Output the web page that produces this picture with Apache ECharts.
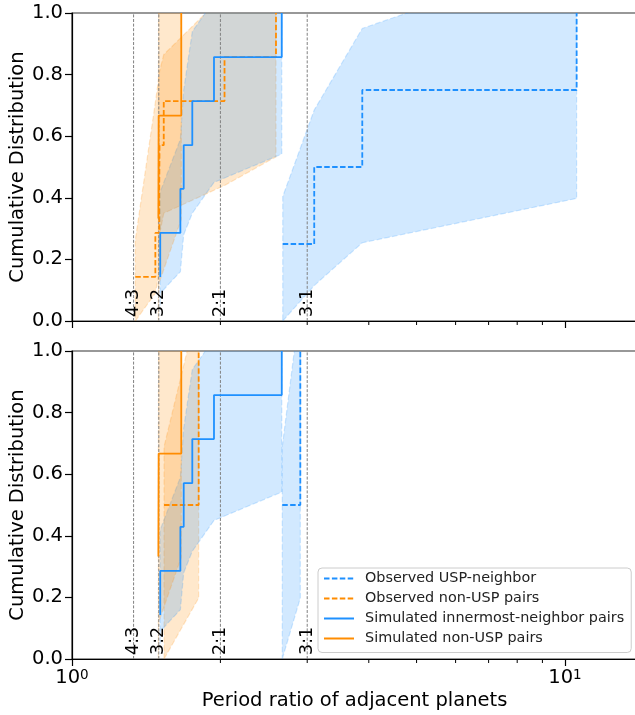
<!DOCTYPE html>
<html><head><meta charset="utf-8">
<script src="https://cdn.jsdelivr.net/npm/echarts@6/dist/echarts.min.js"></script>
<style>html,body{margin:0;padding:0;background:#fff}#c{width:635px;height:715px}</style>
</head><body><div id="c"></div>
<script>
// ---------------- data ----------------
const xMin = 1, xMax = 14;
const xTickValues = [1, 10];
const xTickLabels = [['10', '0'], ['10', '1']];
const xMinorTicks = [2, 3, 4, 5, 6, 7, 8, 9];
const yTickStep = 0.2;
const resonanceValues = [1.3333, 1.5, 2, 3];
const resonanceLabels = ['4:3', '3:2', '2:1', '3:1'];
const seriesNames = ['Observed USP-neighbor', 'Observed non-USP pairs', 'Simulated innermost-neighbor pairs', 'Simulated non-USP pairs'];
const xTitle = 'Period ratio of adjacent planets';
const yTitle = 'Cumulative Distribution';

// top panel observed USP-neighbor
const topUspX  = [2.676, 3.10, 3.88, 10.56];
const topUspY  = [0.25, 0.5, 0.75, 1.0];
const topUspLo = [0.0, 0.115, 0.254, 0.398];
const topUspHi = [0.404, 0.685, 0.95, 1.19];
// top panel observed non-USP pairs
const topObsX  = [1.344, 1.476, 1.503, 1.505, 1.535, 2.039, 2.593];
const topObsY  = [0.143, 0.286, 0.429, 0.571, 0.714, 0.857, 1.0];
const topObsLo = [0.0, 0.09, 0.16, 0.28, 0.35, 0.44, 0.533];
const topObsHi = [0.263, 0.71, 0.80, 0.81, 0.865, 1.06, 1.25];
// bottom panel observed USP-neighbor
const botUspX  = [2.670, 2.905];
const botUspY  = [0.5, 1.0];
const botUspLo = [0.0, 0.198];
const botUspHi = [0.689, 1.155];
// bottom panel observed non-USP pairs
const botObsX  = [1.537, 1.807];
const botObsY  = [0.5, 1.0];
const botObsLo = [0.0, 0.198];
const botObsHi = [0.689, 1.155];
// simulated innermost-neighbor pairs (both panels)
const simInX  = [1.510, 1.510, 1.659, 1.685, 1.754, 1.941, 2.664];
const simInY  = [0.143, 0.286, 0.429, 0.571, 0.714, 0.857, 1.0];
const simInLo = [0.05, 0.09, 0.16, 0.28, 0.35, 0.45, 0.542];
const simInHi = [0.30, 0.42, 0.59, 0.75, 0.94, 1.04, 1.20];
// simulated non-USP pairs (both panels)
const simNonX  = [1.497, 1.499, 1.666];
const simNonY  = [0.333, 0.667, 1.0];
const simNonLo = [0.0, 0.12, 0.33];
const simNonHi = [0.70, 1.10, 1.40];

// ---------------- styling ----------------
const FONT = 'DejaVu Sans';
const BLUE = '30,144,255', ORANGE = '255,140,0';
const rgba = (c, a) => 'rgba(' + c + ',' + a + ')';

function bandSeries(gi, xs, lo, hi, col) {
  return {
    type: 'custom', xAxisIndex: gi, yAxisIndex: gi, z: 1, silent: true, clip: true,
    data: xs.map((x, i) => [x, lo[i], hi[i]]),
    encode: { x: 0, y: [1, 2] },
    renderItem(params, api) {
      if (params.dataIndex !== 0) return null;
      const pts = [];
      for (let i = 0; i < xs.length; i++) pts.push(api.coord([xs[i], lo[i]]));
      for (let i = xs.length - 1; i >= 0; i--) pts.push(api.coord([xs[i], hi[i]]));
      return { type: 'polygon', shape: { points: pts },
        style: { fill: rgba(col, 0.2), stroke: rgba(col, 0.2), lineWidth: 1.2, lineDash: [5.5, 2.4] } };
    }
  };
}
function stepLine(gi, name, xs, ys, col, dashed) {
  return {
    type: 'line', name: name, xAxisIndex: gi, yAxisIndex: gi, step: 'end', z: 3,
    symbol: 'none', showSymbol: false, silent: true, clip: true,
    data: xs.map((x, i) => [x, ys[i]]),
    lineStyle: { color: rgba(col, 1), width: 1.8, type: dashed ? [5.5, 2.4] : 'solid' },
    itemStyle: { color: rgba(col, 1) }, emphasis: { disabled: true }
  };
}
function resonanceSeries(gi) {
  return {
    type: 'custom', xAxisIndex: gi, yAxisIndex: gi, z: 2, silent: true, clip: false,
    data: resonanceValues.map(v => [v, 0]), encode: { x: 0, y: 1 },
    renderItem(params, api) {
      const v = api.value(0);
      const p0 = api.coord([v, 0]), p1 = api.coord([v, 1]);
      return { type: 'group', children: [
        { type: 'line', shape: { x1: p0[0], y1: p0[1], x2: p1[0], y2: p1[1] },
          style: { stroke: '#808080', lineWidth: 1, lineDash: [3, 1.6] } },
        { type: 'text', x: p0[0], y: p0[1] - 4, rotation: Math.PI / 2,
          style: { text: resonanceLabels[params.dataIndex], fill: '#000', fontSize: 17.5, fontFamily: FONT,
                   align: 'left', verticalAlign: 'middle' } }
      ] };
    }
  };
}
function minorTickSeries(gi) {
  return {
    type: 'custom', xAxisIndex: gi, yAxisIndex: gi, z: 5, silent: true, clip: false,
    data: xMinorTicks.map(v => [v, 0]), encode: { x: 0, y: 1 },
    renderItem(params, api) {
      const p = api.coord([api.value(0), 0]);
      return { type: 'line', shape: { x1: p[0], y1: p[1], x2: p[0], y2: p[1] + 4 },
        style: { stroke: '#000', lineWidth: 1 } };
    }
  };
}
function xAxisCfg(gi, showLabels) {
  return {
    type: 'log', logBase: 10, gridIndex: gi, min: xMin, max: xMax,
    axisLine: { show: true, onZero: false, lineStyle: { color: '#000', width: 1.2 } },
    axisTick: { show: true, length: 7, lineStyle: { color: '#000', width: 1.2 } },
    axisLabel: {
      show: showLabels, showMaxLabel: false, margin: 9, color: '#000', fontFamily: FONT, fontSize: 19.5,
      formatter: v => {
        const i = xTickValues.findIndex(t => Math.abs(t - v) < 1e-6 * t);
        return i >= 0 ? '{b|' + xTickLabels[i][0] + '}{s|' + xTickLabels[i][1] + '}' : '';
      },
      rich: {
        b: { fontSize: 19.5, fontFamily: FONT, color: '#000', verticalAlign: 'bottom' },
        s: { fontSize: 13.5, fontFamily: FONT, color: '#000', verticalAlign: 'top' }
      }
    },
    splitLine: { show: false },
    name: showLabels ? xTitle : '', nameLocation: 'middle', nameGap: 32, nameMoveOverlap: false,
    nameTextStyle: { color: '#000', fontFamily: FONT, fontSize: 19.5 }
  };
}
function yAxisCfg(gi) {
  return {
    type: 'value', gridIndex: gi, min: 0, max: 1, interval: yTickStep,
    axisLine: { show: true, onZero: false, lineStyle: { color: '#000', width: 1.2 } },
    axisTick: { show: true, length: 7, lineStyle: { color: '#000', width: 1.2 } },
    axisLabel: { margin: 9, color: '#000', fontFamily: FONT, fontSize: 19.5, formatter: v => v.toFixed(1) },
    splitLine: { show: false },
    name: yTitle, nameLocation: 'middle', nameGap: 44, nameMoveOverlap: false,
    nameTextStyle: { color: '#000', fontFamily: FONT, fontSize: 19.5 }
  };
}

const series = [
  // top panel
  bandSeries(0, topUspX, topUspLo, topUspHi, BLUE),
  bandSeries(0, topObsX, topObsLo, topObsHi, ORANGE),
  bandSeries(0, simInX, simInLo, simInHi, BLUE),
  bandSeries(0, simNonX, simNonLo, simNonHi, ORANGE),
  resonanceSeries(0),
  stepLine(0, seriesNames[0], topUspX, topUspY, BLUE, true),
  stepLine(0, seriesNames[1], topObsX, topObsY, ORANGE, true),
  stepLine(0, seriesNames[2], simInX, simInY, BLUE, false),
  stepLine(0, seriesNames[3], simNonX, simNonY, ORANGE, false),
  minorTickSeries(0),
  // bottom panel
  bandSeries(1, botUspX, botUspLo, botUspHi, BLUE),
  bandSeries(1, botObsX, botObsLo, botObsHi, ORANGE),
  bandSeries(1, simInX, simInLo, simInHi, BLUE),
  bandSeries(1, simNonX, simNonLo, simNonHi, ORANGE),
  resonanceSeries(1),
  stepLine(1, seriesNames[0], botUspX, botUspY, BLUE, true),
  stepLine(1, seriesNames[1], botObsX, botObsY, ORANGE, true),
  stepLine(1, seriesNames[2], simInX, simInY, BLUE, false),
  stepLine(1, seriesNames[3], simNonX, simNonY, ORANGE, false),
  minorTickSeries(1)
];

const chart = echarts.init(document.getElementById('c'), null, { renderer: 'canvas', width: 635, height: 715 });
chart.setOption({
  animation: false,
  backgroundColor: '#fff',
  grid: [
    { left: 72, top: 13, width: 565, height: 308, show: true, borderColor: '#333', borderWidth: 1.2, backgroundColor: 'transparent', containLabel: false, outerBoundsMode: 'none' },
    { left: 72, top: 351, width: 565, height: 308, show: true, borderColor: '#333', borderWidth: 1.2, backgroundColor: 'transparent', containLabel: false, outerBoundsMode: 'none' }
  ],
  xAxis: [xAxisCfg(0, false), xAxisCfg(1, true)],
  yAxis: [yAxisCfg(0), yAxisCfg(1)],
  legend: {
    data: seriesNames, orient: 'vertical', left: 318, top: 568,
    itemWidth: 30, itemHeight: 14, itemGap: 6, padding: [3.5, 7, 7, 5],
    backgroundColor: 'rgba(255,255,255,0.8)', borderColor: '#cccccc', borderWidth: 1, borderRadius: 4,
    selectedMode: false,
    itemStyle: { opacity: 0, color: 'transparent', borderWidth: 0 },
    textStyle: { fontFamily: FONT, fontSize: 14.4, color: '#222', padding: [0, 0, 0, 6] }
  },
  series: series
});
</script>
</body></html>
